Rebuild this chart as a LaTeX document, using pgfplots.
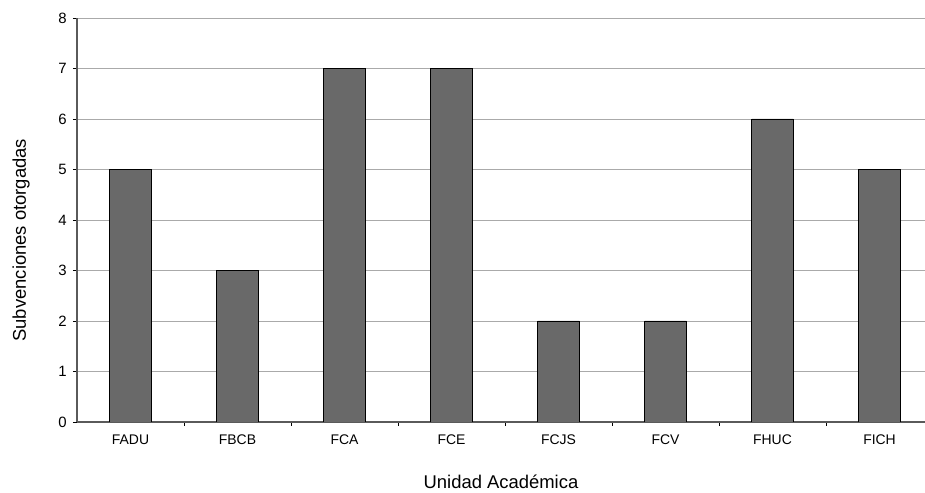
\documentclass[border=0pt]{standalone}
\usepackage{pgfplots}
\pgfplotsset{compat=1.18}
\usepackage{fontspec}
\setmainfont{Liberation Sans}
\definecolor{barfill}{RGB}{105,105,105}
\definecolor{gridc}{RGB}{170,170,170}
\definecolor{axisc}{RGB}{90,90,90}
\begin{document}
\begin{tikzpicture}
\begin{axis}[
  name=ax,
  scale only axis,
  width=848bp, height=404bp,
  xmin=-0.5, xmax=7.425,
  ymin=0, ymax=8,
  ytick={0,1,...,8},
  axis x line*=bottom,
  axis y line*=left,
  axis line style={draw=axisc, line width=1.1bp},
  tick align=outside,
  major tick length=4bp,
  tick style={draw=black, line width=0.8bp},
  xtick={0.5,1.5,...,6.5},
  xticklabels={},
  extra x ticks={0,1,2,3,4,5,6,7},
  extra x tick labels={FADU,FBCB,FCA,FCE,FCJS,FCV,FHUC,FICH},
  extra x tick style={major tick length=0pt, grid=none},
  ymajorgrids,
  grid style={draw=gridc, line width=0.8bp},
  /pgf/number format/assume math mode=true,
  yticklabel style={font=\fontsize{15}{17}\selectfont, inner sep=0pt, xshift=-6bp},
  xticklabel style={font=\fontsize{14}{16}\selectfont, inner sep=0pt, yshift=-13bp},
  ylabel={Subvenciones otorgadas},
  xlabel={Unidad Académica},
  label style={font=\fontsize{18.5}{21}\selectfont},
  xlabel style={at={(axis description cs:0.5,0)}, anchor=center, yshift=-60bp},
  ylabel style={at={(axis description cs:0,0.45)}, anchor=center, rotate=0, yshift=56bp},
]
\addplot[ybar, bar width=0.388, fill=barfill, draw=black, line width=0.8bp] coordinates {
(0,5) (1,3) (2,7) (3,7) (4,2) (5,2) (6,6) (7,5)
};
\end{axis}
\pgfresetboundingbox
\path[use as bounding box] ([xshift=-77bp,yshift=-71bp]ax.south west) rectangle ([yshift=18bp]ax.north east);
\end{tikzpicture}
\end{document}
